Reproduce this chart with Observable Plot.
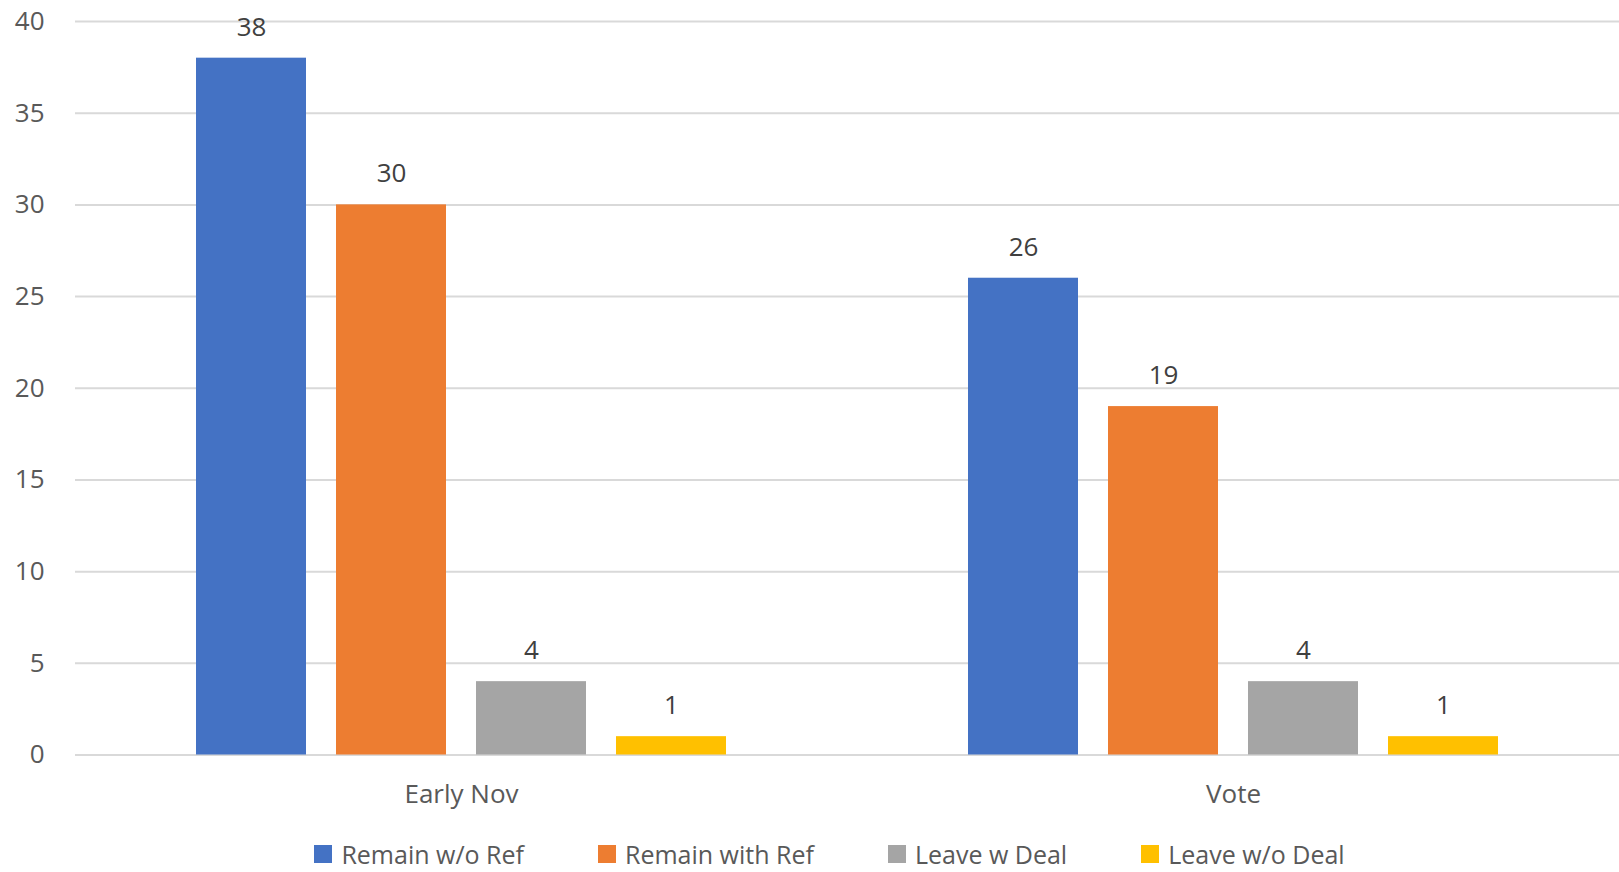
<!DOCTYPE html>
<html>
<head>
<meta charset="utf-8">
<script src="https://cdn.jsdelivr.net/npm/d3@7"></script>
<script src="https://cdn.jsdelivr.net/npm/@observablehq/plot@0.6"></script>
<style>
  html, body { margin: 0; padding: 0; background: #fff; overflow: hidden; }
  body { position: relative; width: 1619px; height: 872px; }
  #chart svg { display: block; }
  .legend { position: absolute; left: 20px; top: 840px; width: 1619px; display: flex; justify-content: center; align-items: center; gap: 74px;
    height: 28px; line-height: 28px; font-family: "Open Sans", sans-serif; font-size: 25px; color: #595959; }
  .legend span.item { display: flex; align-items: center; white-space: nowrap; }
  .legend span.sw { width: 18px; height: 18px; margin-right: 9px; display: inline-block; }
</style>
</head>
<body>
<div id="chart"></div>
<div class="legend" id="legend"></div>
<script>
const groups = ["Early Nov", "Vote"];
const series = ["Remain w/o Ref", "Remain with Ref", "Leave w Deal", "Leave w/o Deal"];
const earlyNov = [38, 30, 4, 1];
const vote = [26, 19, 4, 1];
const colors = ["#4472C4", "#ED7D31", "#A5A5A5", "#FFC000"];
const yTicks = [0, 5, 10, 15, 20, 25, 30, 35, 40];

const valuesByGroup = [earlyNov, vote];
const rows = [];
groups.forEach((g, gi) => series.forEach((s, si) => rows.push({group: g, series: s, value: valuesByGroup[gi][si]})));

const chart = Plot.plot({
  width: 1619,
  height: 838,
  marginLeft: 75,
  marginRight: 0,
  marginTop: 21,
  marginBottom: 83.5,
  style: {fontFamily: "Open Sans, sans-serif", fontSize: "26px", color: "#595959", background: "#fff"},
  facet: {data: rows, x: "group"},
  fx: {domain: groups, padding: 0, axis: "bottom", tickSize: 0, tickPadding: 30, label: null},
  x: {domain: series, paddingInner: 0.214, paddingOuter: 0.85, axis: null},
  y: {domain: [0, 40], ticks: yTicks, tickSize: 0, tickPadding: 31, label: null, grid: false},
  color: {domain: series, range: colors},
  marks: [
    Plot.ruleY(yTicks, {stroke: "#d9d9d9", strokeWidth: 2}),
    Plot.barY(rows, {x: "series", y: "value", fill: "series"}),
    Plot.text(rows, {x: "series", y: "value", text: d => String(d.value), dy: -31, fill: "#404040", fontSize: 26})
  ]
});
document.getElementById("chart").appendChild(chart);

const legend = document.getElementById("legend");
series.forEach((s, i) => {
  const item = document.createElement("span");
  item.className = "item";
  const sw = document.createElement("span");
  sw.className = "sw";
  sw.style.background = colors[i];
  item.appendChild(sw);
  item.appendChild(document.createTextNode(s));
  legend.appendChild(item);
});
</script>
</body>
</html>
